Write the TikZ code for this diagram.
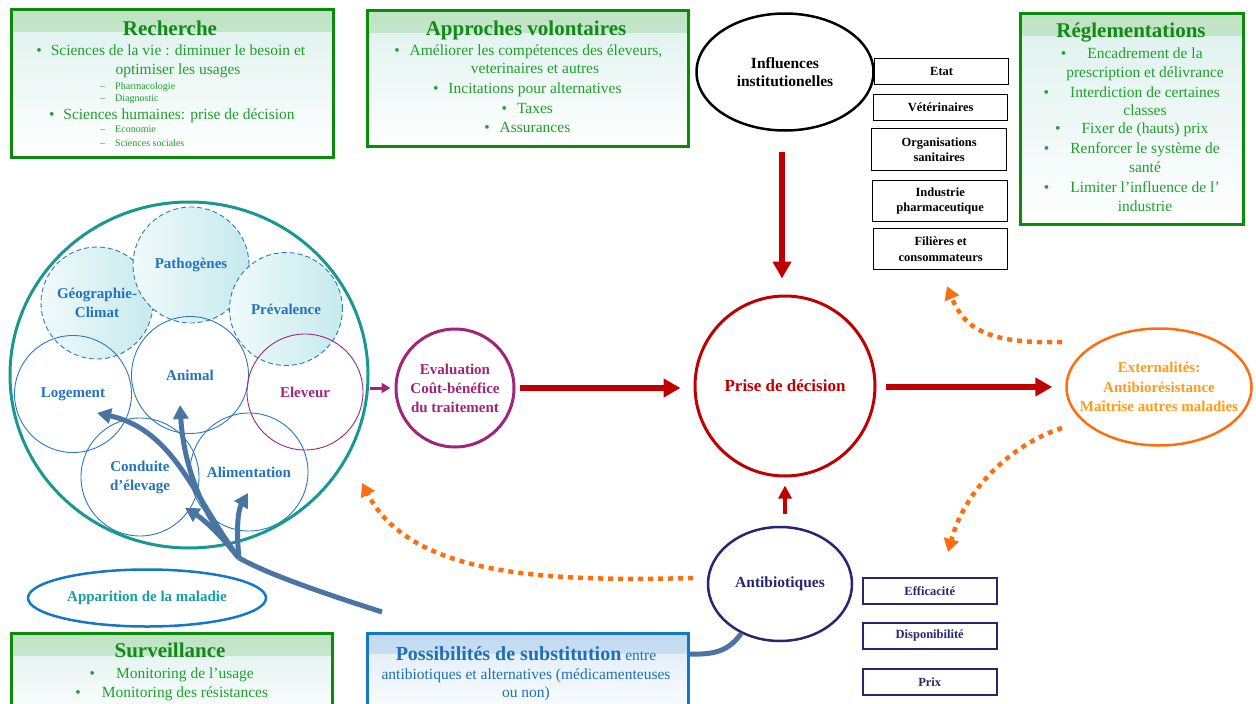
\documentclass[tikz,border=0pt]{standalone}
\usepackage{fontspec}
\setmainfont{Liberation Serif}
\usetikzlibrary{arrows.meta,shapes.geometric}
\definecolor{gbord}{HTML}{0A8C0A}
\definecolor{gtitle}{HTML}{118A16}
\definecolor{gtext}{HTML}{1FA02A}
\definecolor{gtop}{HTML}{DDF1EE}
\definecolor{gband}{HTML}{BFE3C3}
\definecolor{btop}{HTML}{DDEBF7}
\definecolor{bband}{HTML}{C2DAF0}
\definecolor{dred}{HTML}{C00000}
\definecolor{orng}{HTML}{FF6E0E}
\definecolor{extxt}{HTML}{FF9A1A}
\definecolor{tealc}{HTML}{17998F}
\definecolor{cblue}{HTML}{2272C3}
\definecolor{lblue}{HTML}{2A77C5}
\definecolor{purp}{HTML}{A0247A}
\definecolor{navy}{HTML}{262673}
\definecolor{arrbl}{HTML}{4A74A2}
\definecolor{boxblue}{HTML}{1577C8}
\definecolor{apptxt}{HTML}{1A9E9E}
\definecolor{possc}{HTML}{1F70B8}
\definecolor{cyl}{HTML}{F0FAFB}
\definecolor{cyr}{HTML}{C6EAED}
\newcommand{\fsz}[2]{\fontsize{#1}{#2}\selectfont}
\newcommand{\blt}[1]{\llap{\textbullet\hspace{#1}}}
\tikzset{
  gbox/.style={draw=gbord, line width=3pt, top color=gtop, bottom color=white, inner sep=0pt, anchor=north west,
    path picture={\shade[top color=gband, bottom color=gtop] (path picture bounding box.north west) rectangle ([yshift=-22pt]path picture bounding box.north east);}},
  bbox/.style={draw=boxblue, line width=3pt, top color=btop, bottom color=white, inner sep=0pt, anchor=north west,
    path picture={\shade[top color=bband, bottom color=btop] (path picture bounding box.north west) rectangle ([yshift=-20pt]path picture bounding box.north east);}},
  ttl/.style={anchor=base, inner sep=0pt, text=gtitle, font=\fsz{21}{25}\bfseries},
  gt/.style={anchor=base, inner sep=0pt, text=gtext, font=\fsz{15.5}{19}},
  gs/.style={anchor=base west, inner sep=0pt, text=gtext, font=\fsz{10}{12}},
  ibox/.style={draw=black, line width=1.3pt, anchor=north west, inner sep=0pt, align=center, font=\fsz{12.5}{15.5}\bfseries, minimum width=134pt},
  nbox/.style={draw=navy, line width=1.5pt, anchor=north west, inner sep=0pt, align=center, text=navy, font=\fsz{12.5}{15.5}\bfseries, minimum width=134pt, minimum height=26pt},
  dcirc/.style={circle, draw=lblue, line width=0.9pt, dash pattern=on 5pt off 3pt, left color=cyl, right color=cyr, inner sep=0pt, align=center, text=cblue, font=\fsz{15}{19}\bfseries},
  scirc/.style={circle, draw=lblue, line width=0.9pt, inner sep=0pt, align=center, text=cblue, font=\fsz{15}{19}\bfseries},
  redarr/.style={draw=dred, line width=6pt, -{Triangle[width=18pt,length=17pt]}},
  redarrs/.style={draw=dred, line width=4pt, -{Triangle[width=13pt,length=13pt]}},
  barr/.style={draw=arrbl, line width=5pt, -{Triangle[width=15pt,length=14pt]}},
  bline/.style={draw=arrbl, line width=5pt},
  odot/.style={draw=orng, line width=4.5pt, dash pattern=on 5pt off 5pt, -{Triangle[width=15pt,length=13pt]}},
}
\begin{document}
\begin{tikzpicture}[x=1pt,y=-1pt]
\useasboundingbox (0,0) rectangle (1256,704);
\clip (0,0) rectangle (1256,704);

% ---------- Recherche
\node[gbox, minimum width=322pt, minimum height=148pt] (rech) at (10,8) {};
\node[ttl] (rech-t) at (170,35) {Recherche};
\node[gt] (rech-1) at (178,55) {\blt{9pt}Sciences de la vie : diminuer le besoin et};
\node[gt] (rech-2) at (178,74) {optimiser les usages};
\node[gs] (rech-3) at (100,89) {–\hspace{10pt}Pharmacologie};
\node[gs] (rech-4) at (100,101) {–\hspace{10pt}Diagnostic};
\node[gt] (rech-5) at (179,119) {\blt{9pt}Sciences humaines: prise de décision};
\node[gs] (rech-6) at (100,132) {–\hspace{10pt}Economie};
\node[gs] (rech-7) at (100,146) {–\hspace{10pt}Sciences sociales};

% ---------- Approches volontaires
\node[gbox, minimum width=321pt, minimum height=136pt] (appr) at (366,9) {};
\node[ttl] (appr-t) at (526,35) {Approches volontaires};
\node[gt] (appr-1) at (536,55) {\blt{10pt}Améliorer les compétences des éleveurs,};
\node[gt] (appr-2) at (535,73) {veterinaires et autres};
\node[gt] (appr-3) at (535,93) {\blt{10pt}Incitations pour alternatives};
\node[gt] (appr-4) at (535,113) {\blt{10pt}Taxes};
\node[gt] (appr-5) at (535,132) {\blt{10pt}Assurances};

% ---------- Réglementations
\node[gbox, minimum width=223pt, minimum height=211pt] (regl) at (1019,12) {};
\node[ttl] (regl-t) at (1131,37) {Réglementations};
\node[gt] (regl-1) at (1145,58) {\blt{21pt}Encadrement de la};
\node[gt] (regl-2) at (1145,77) {prescription et délivrance};
\node[gt] (regl-3) at (1145,97) {\blt{21pt}Interdiction de certaines};
\node[gt] (regl-4) at (1145,115) {classes};
\node[gt] (regl-5) at (1145,133) {\blt{21pt}Fixer de (hauts) prix};
\node[gt] (regl-6) at (1145,153) {\blt{21pt}Renforcer le système de};
\node[gt] (regl-7) at (1145,172) {santé};
\node[gt] (regl-8) at (1145,192) {\blt{21pt}Limiter l’influence de l’};
\node[gt] (regl-9) at (1145,211) {industrie};

% ---------- Surveillance
\node[gbox, minimum width=321pt, minimum height=90pt] (surv) at (10,632) {};
\node[ttl] (surv-t) at (170,657) {Surveillance};
\node[gt] (surv-1) at (185,678) {\blt{21pt}Monitoring de l’usage};
\node[gt] (surv-2) at (185,697) {\blt{21pt}Monitoring des résistances};

% ---------- Possibilités de substitution
\node[bbox, minimum width=321pt, minimum height=90pt] (poss) at (366,632) {};
\node[gt, text=possc] (poss-1) at (526,660) {{\fsz{20}{24}\bfseries Possibilités de substitution} entre};
\node[gt, text=possc] (poss-2) at (526,679) {antibiotiques et alternatives (médicamenteuses};
\node[gt, text=possc] (poss-3) at (526,697) {ou non)};

% ---------- Influences institutionelles
\node[ellipse, draw=black, line width=2.5pt, minimum width=177pt, minimum height=117pt, inner sep=0pt, align=center, font=\fsz{15.5}{18.5}\bfseries] (infl) at (785,72) {Influences\\institutionelles};
\node[ibox, minimum height=26pt] (etat) at (874,58) {Etat};
\node[ibox, minimum height=26pt] (vet) at (873,94) {Vétérinaires};
\node[ibox, minimum height=42pt, minimum width=135pt] (org) at (871,128) {Organisations\\sanitaires};
\node[ibox, minimum height=41pt, minimum width=135pt] (ind) at (872,180) {Industrie\\pharmaceutique};
\node[ibox, minimum height=41pt] (fil) at (873,228) {Filières et\\consommateurs};

% ---------- central nodes
\node[circle, draw=dred, line width=3pt, minimum size=180pt, inner sep=0pt, text=dred, font=\fsz{17}{20}\bfseries] (prise) at (785,386) {Prise de décision};
\node[circle, draw=purp, line width=3pt, minimum size=118pt, inner sep=0pt, align=center, text=purp, font=\fsz{15}{19}\bfseries] (eval) at (455,388) {Evaluation\\Coût-bénéfice\\du traitement};
\node[ellipse, draw=orng, line width=2.5pt, minimum width=185pt, minimum height=117pt, inner sep=0pt] (ext) at (1159,387) {};
\node[align=center, inner sep=0pt, text=extxt, font=\fsz{15}{19.5}\bfseries] (ext-t) at (ext.center) {Externalités:\\Antibiorésistance\\Maîtrise autres maladies};
\node[ellipse, draw=navy, line width=2.5pt, minimum width=144pt, minimum height=114pt, inner sep=0pt, text=navy, font=\fsz{15.5}{19}\bfseries] (antib) at (780,584) {Antibiotiques};
\node[nbox] (eff) at (862,577) {Efficacité};
\node[nbox] (disp) at (862,622) {Disponibilité};
\node[nbox] (prix) at (862,668) {Prix};

% ---------- big circle and inner circles
\node[dcirc, minimum size=112pt] (geo) at (97,303) {Géographie-\\Climat};
\node[dcirc, minimum size=116pt] (path) at (191,265) {Pathogènes};
\node[dcirc, minimum size=113pt] (prev) at (286,309) {Prévalence};
\node[scirc, minimum size=117pt] (loge) at (73,394) {Logement};
\node[scirc, minimum size=117pt] (anim) at (190,375) {Animal};
\node[scirc, minimum size=116pt, draw=purp, text=purp] (elev) at (305,392) {Eleveur};
\node[scirc, minimum size=118pt] (cond) at (140,477) {Conduite\\d’élevage};
\node[scirc, minimum size=118pt] (alim) at (249,472) {Alimentation};
\node[ellipse, draw=tealc, line width=3pt, minimum width=358pt, minimum height=346pt, inner sep=0pt] (big) at (189,375) {};

\node[ellipse, draw=boxblue, line width=2.5pt, minimum width=238pt, minimum height=57pt, inner sep=0pt, text=apptxt, font=\fsz{15}{18}\bfseries] (appar) at (147,598) {Apparition de la maladie};

% ---------- arrows
\draw[redarr] ([yshift=-20pt]infl.south -| 782,0) -- ([yshift=16pt]prise.north -| 782,0);
\draw[redarr] ([xshift=4pt]eval.east) -- ([xshift=-13pt]prise.west |- eval.east);
\draw[redarr] ([xshift=9pt]prise.east |- ext.west) -- ([xshift=-13pt]ext.west);
\draw[redarrs] ([yshift=12pt]antib.north -| prise.south) -- ([yshift=-8pt]prise.south);
\draw[draw=purp, line width=3pt, -{Triangle[width=10pt,length=9pt]}] (big.east |- eval.west) -- ([xshift=-4pt]eval.west);

% blue-grey disease arrows
\coordinate (tail) at (382,612);
\coordinate (root) at (239,558);
\draw[bline] (tail) .. controls (320,592) and (270,575) .. (root);
\draw[barr] (root) .. controls (195,500) and (175,430) .. (97,413);
\draw[barr] (root) .. controls (205,520) and (184,470) .. (180,405);
\draw[barr] (root) .. controls (225,540) and (205,520) .. (185,508);
\draw[barr] (root) .. controls (236,530) and (238,510) .. (248,493);
\draw[bline] (poss.east |- 0,654) .. controls (720,655) and (730,648) .. (antib.-128);

% orange dotted arrows
\coordinate (o1) at (1062,342);
\coordinate (o2) at (1062,428);
\coordinate (o3) at (693,578);
\draw[odot] (o1) .. controls (990,344) and (965,330) .. ([yshift=-16pt]fil.south -| 947,0);
\draw[odot] (o2) .. controls (1010,445) and (965,490) .. (948,552);
\draw[odot] (o3) .. controls (540,582) and (410,575) .. (362,483);
\end{tikzpicture}
\end{document}
